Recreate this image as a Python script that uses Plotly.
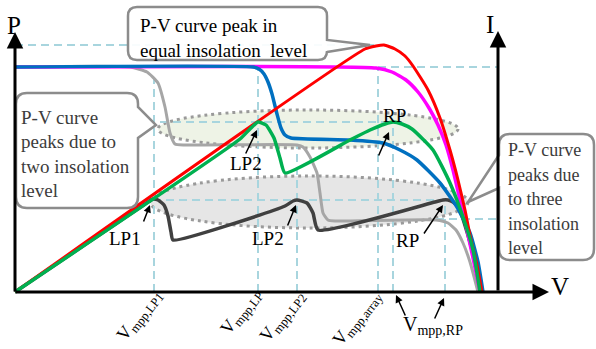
import plotly.graph_objects as go

# ---------------- data (V, P in diagram units, origin at the axes corner) ----------------
# P-V curve, uniform insolation (red)
red_v = [0, 350, 361, 369, 380, 390, 398, 413, 425, 435, 443, 450, 456, 462, 467]
red_p = [0, 243, 246, 247, 243, 236, 226, 202, 174, 142, 112, 82, 52, 27, 0]

# I-V curve, uniform insolation (magenta)
mag_v = [0, 361, 377, 391, 403, 414, 423, 431, 438, 445, 452, 458, 465]
mag_p = [225, 224, 220, 212, 200, 184, 167, 147, 122, 92, 62, 34, 0]

# I-V curve, two insolation levels (blue)
blue_v = [0, 238, 244, 249, 253, 257, 262, 266, 270, 276, 335, 368, 385, 402, 425, 442, 455, 463, 468]
blue_p = [225, 225, 223, 218, 210, 198, 178, 164, 157, 154, 152, 149, 142, 132, 109, 85, 59, 30, 0]

# P-V curve, two insolation levels (green)
green_v = [0, 225, 235, 243, 251, 259, 265, 270, 335, 355, 370, 378, 387, 397, 418, 435, 448, 458, 465]
green_p = [0, 153, 163, 170, 167, 154, 134, 119, 152, 162, 168, 170, 168, 163, 142, 109, 75, 42, 0]

# I-V curve, three insolation levels (light grey)
lgray_v = [0, 115, 132, 143, 150, 155, 160, 170, 282, 288, 295, 302, 305, 308, 313, 320, 421, 433, 441, 448, 455, 463]
lgray_p = [225, 225, 220, 209, 185, 159, 148, 147, 147, 145, 135, 119, 99, 79, 72, 71, 72, 69, 62, 49, 30, 0]

# P-V curve, three insolation levels (dark grey)
dgray_v = [0, 130, 138, 143, 149, 153, 156, 158, 270, 278, 282, 292, 298, 303, 420, 428, 433, 438, 444, 452, 460, 466]
dgray_p = [0, 88, 93, 92, 87, 76, 60, 52, 86, 91, 92, 89, 79, 62, 90, 92, 92, 90, 84, 60, 30, 0]

# annotation texts
top_box_lines = ["P-V curve peak in", "equal insolation\u00a0 level"]
left_box_lines = ["P-V curve", "peaks due to", "two insolation", "level"]
right_box_lines = ["P-V curve", "peaks due", "to three", "insolation", "level"]
rot_labels = [("mpp,LP1", 155, 10), ("mpp,LP", 255, 11), ("mpp,LP2", 298, 9), ("mpp,array", 374, 9)]

FONT = "Liberation Serif, Times New Roman, serif"

fig = go.Figure()


def curve(v, p, color, width):
    fig.add_trace(go.Scatter(x=v, y=p, mode="lines", hoverinfo="skip", showlegend=False,
                             line=dict(color=color, width=width, shape="spline", smoothing=0.5)))


curve(lgray_v, lgray_p, "#a6a6a6", 3)
curve(dgray_v, dgray_p, "#404040", 3.5)
curve(mag_v, mag_p, "#ff00ff", 3.5)
curve(blue_v, blue_p, "#0070c0", 3.5)
curve(red_v, red_p, "#ff0000", 3)
curve(green_v, green_p, "#00b050", 3.5)

shapes = []
# shaded dotted ellipses
shapes.append(dict(type="circle", xref="x", yref="y", x0=143, x1=443, y0=144, y1=182, layer="below",
                   fillcolor="#eef3e6", line=dict(color="#9a9a9a", width=3, dash="3px,4px")))
shapes.append(dict(type="circle", xref="x", yref="y", x0=135, x1=453, y0=64, y1=116, layer="below",
                   fillcolor="#e6e6e6", line=dict(color="#9a9a9a", width=3, dash="3px,4px")))

# dashed guide lines
DC = "#a8d5de"
guides = [(0, 247, 369, 247), (363, 225, 483, 225), (139, 0, 139, 215), (243, 0, 243, 222),
          (282, 0, 282, 147), (363, 0, 363, 225), (378, 0, 378, 170), (430, 0, 430, 92),
          (145, 170, 378, 170), (138, 92, 430, 92), (421, 73, 483, 73)]
for x0, y0, x1, y1 in guides:
    shapes.append(dict(type="line", xref="x", yref="y", x0=x0, y0=y0, x1=x1, y1=y1, layer="below",
                       line=dict(color=DC, width=2, dash="8px,5px")))


def box_path(x0, x1, y0, y1, r, right=None, left=None):
    s = f"M{x0 + r},{y1} L{x1 - r},{y1} Q{x1},{y1} {x1},{y1 - r} "
    if right:
        a, tx, ty, b = right
        s += f"L{x1},{a} L{tx},{ty} L{x1},{b} "
    s += f"L{x1},{y0 + r} Q{x1},{y0} {x1 - r},{y0} L{x0 + r},{y0} Q{x0},{y0} {x0},{y0 + r} "
    if left:
        b, tx, ty, a = left
        s += f"L{x0},{b} L{tx},{ty} L{x0},{a} "
    s += f"L{x0},{y1 - r} Q{x0},{y1} {x0 + r},{y1} Z"
    return s


BOXLINE = dict(color="#8c8c8c", width=2.5)
shapes.append(dict(type="path", xref="x", yref="y", layer="above", fillcolor="rgba(255,255,255,0.92)",
                   line=BOXLINE, path=box_path(113, 312, 232, 285, 9, right=(252, 355, 247, 240))))
shapes.append(dict(type="path", xref="x", yref="y", layer="above", fillcolor="rgba(255,255,255,0.92)",
                   line=BOXLINE, path=box_path(1, 123, 84, 199, 11, right=(185, 141, 167, 154))))
shapes.append(dict(type="path", xref="x", yref="y", layer="above", fillcolor="rgba(255,255,255,0.92)",
                   line=BOXLINE, path=box_path(484, 579, 32, 158, 11, left=(104, 453, 90, 137))))

ann = []


def arrow(x, y, ax, ay, width=1.5, size=1.0):
    ann.append(dict(x=x, y=y, ax=ax, ay=ay, xref="x", yref="y", axref="x", ayref="y", text="",
                    showarrow=True, arrowhead=2, arrowsize=size, arrowwidth=width, arrowcolor="black"))


def text(x, y, t, size=19, color="black", xanchor="center", yanchor="middle", angle=0):
    ann.append(dict(x=x, y=y, xref="x", yref="y", text=t, showarrow=False, xanchor=xanchor,
                    yanchor=yanchor, textangle=angle, font=dict(family=FONT, size=size, color=color)))


# axes
arrow(0, 260, 0, -1, width=3, size=1.1)
arrow(534, 0, -1, 0, width=3, size=1.1)
arrow(483, 261, 483, 0, width=3, size=1.1)
text(-1, 267, "P", size=25)
text(475, 268, "I", size=25)
text(545, 6, "V", size=25)

# box texts
for i, t in enumerate(top_box_lines):
    text(123, 267 - 25 * i, t, size=19, xanchor="left")
for i, t in enumerate(left_box_lines):
    text(4, 175 - 24.5 * i, t, size=19, color="#3c3c3c", xanchor="left")
for i, t in enumerate(right_box_lines):
    text(491, 142 - 24.5 * i, t, size=18, color="#3c3c3c", xanchor="left")

# point labels with arrows
text(231, 129, "LP2")
arrow(242, 162, 230, 137)
text(379, 177, "RP")
arrow(374, 160, 363, 135)
text(110, 54, "LP1")
arrow(135, 87, 128, 69)
text(253, 54, "LP2")
arrow(281, 87, 272, 65)
text(392, 52, "RP")
arrow(428, 87, 408, 57)

# V axis labels
for sub, x, y in rot_labels:
    text(x, y, f"V<sub>{sub}</sub>", size=18, xanchor="right", yanchor="top", angle=-52)
text(386, -33, "V<sub>mpp,RP</sub>", size=20, xanchor="left")
arrow(381, -3, 391, -25)
arrow(429, -6, 419, -28)

fig.update_layout(
    width=596, height=349, margin=dict(l=0, r=0, t=0, b=0),
    paper_bgcolor="white", plot_bgcolor="white",
    xaxis=dict(range=[-15, 581], visible=False, fixedrange=True),
    yaxis=dict(range=[-57, 292], visible=False, fixedrange=True),
    shapes=shapes, annotations=ann, showlegend=False,
)
fig.write_html("out.html", config={"displayModeBar": False},
               post_script="document.body.style.margin='0';document.body.style.overflow='hidden';")
